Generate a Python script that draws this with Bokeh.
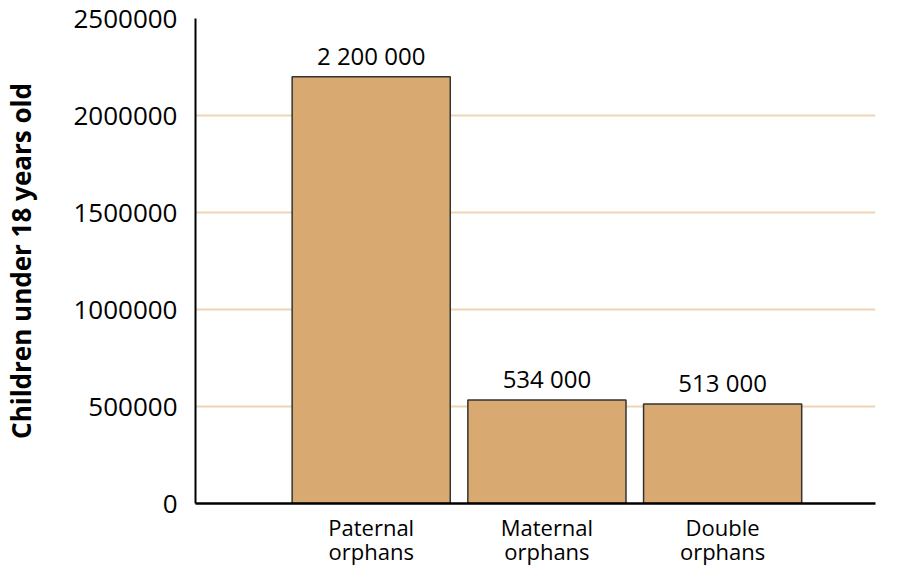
from bokeh.plotting import figure
from bokeh.models import FixedTicker, Range1d, ColumnDataSource, LabelSet
from bokeh.core.properties import value
from bokeh.embed import file_html
from bokeh.resources import INLINE

categories = ["Paternal\norphans", "Maternal\norphans", "Double\norphans"]
counts = [2200000, 534000, 513000]
y_ticks = [0, 500000, 1000000, 1500000, 2000000, 2500000]

positions = [1, 2, 3]
labels = [f"{v:,}".replace(",", " ") for v in counts]

src = ColumnDataSource(dict(x=positions, top=counts, label=labels))

FONT = "Open Sans"

p = figure(width=885, height=568, output_backend="svg", toolbar_location=None,
           x_range=Range1d(0.0, 3.87), y_range=Range1d(0, 2500000),
           min_border_left=195, min_border_right=10, min_border_top=18,
           min_border_bottom=65, outline_line_color=None)

p.vbar(x="x", top="top", bottom=0, width=0.9, source=src,
       fill_color="#D9A972", line_color="#333333", line_width=1.5)

p.add_layout(LabelSet(x="x", y="top", text="label", source=src,
                      text_align="center", text_baseline="alphabetic",
                      y_offset=12, text_font=value(FONT),
                      text_font_size=value("24px"), text_color=value("#000000")))

# grid
p.xgrid.grid_line_color = None
p.ygrid.grid_line_color = "#EFD4B6"
p.ygrid.grid_line_width = 2
p.ygrid.ticker = FixedTicker(ticks=y_ticks)

# y axis
p.yaxis.ticker = FixedTicker(ticks=y_ticks)
p.yaxis.major_label_overrides = {t: str(t) for t in y_ticks}
p.yaxis.axis_line_color = "#000000"
p.yaxis.axis_line_width = 2
p.yaxis.major_tick_line_color = None
p.yaxis.minor_tick_line_color = None
p.yaxis.major_label_text_font = FONT
p.yaxis.major_label_text_font_size = "26px"
p.yaxis.major_label_text_color = "#000000"
p.yaxis.major_label_standoff = 12
p.yaxis.axis_label = "Children under 18 years old"
p.yaxis.axis_label_text_font = FONT
p.yaxis.axis_label_text_font_style = "bold"
p.yaxis.axis_label_text_font_size = "26px"
p.yaxis.axis_label_text_color = "#000000"
p.yaxis.axis_label_standoff = 31

# x axis
p.xaxis.ticker = FixedTicker(ticks=positions)
p.xaxis.major_label_overrides = {pos: c for pos, c in zip(positions, categories)}
p.xaxis.axis_line_color = "#000000"
p.xaxis.axis_line_width = 2.5
p.xaxis.major_tick_line_color = None
p.xaxis.minor_tick_line_color = None
p.xaxis.major_label_text_font = FONT
p.xaxis.major_label_text_font_size = "22px"
p.xaxis.major_label_text_color = "#000000"
p.xaxis.major_label_text_line_height = 0.8
p.xaxis.major_label_standoff = 2

open("out.html", "w").write(file_html(p, INLINE))
